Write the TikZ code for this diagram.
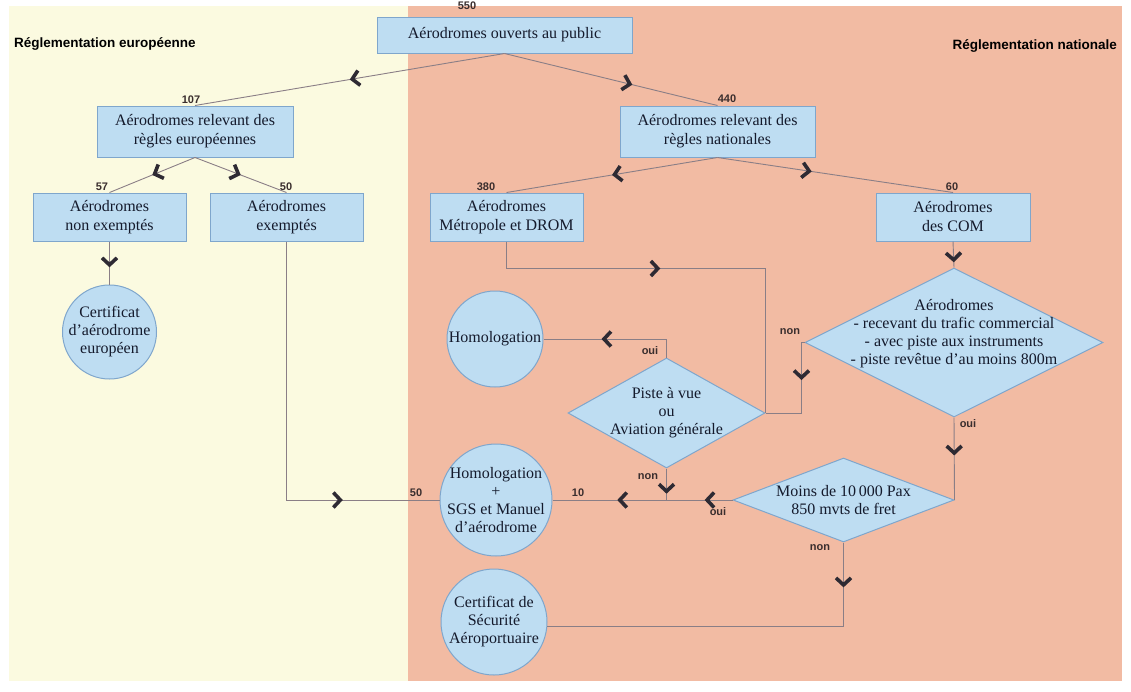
\documentclass[tikz,border=0pt]{standalone}
\usepackage{fontspec}
\setmainfont{Liberation Serif}
\newfontfamily\lblfont{Liberation Sans}
\usetikzlibrary{shapes.geometric,arrows.meta,decorations.markings}
\definecolor{bgL}{HTML}{FBFAE0}
\definecolor{bgR}{HTML}{F2BBA3}
\definecolor{boxfill}{HTML}{BEDDF2}
\definecolor{boxline}{HTML}{7FA6CC}
\definecolor{txt}{HTML}{141A2C}
\definecolor{linec}{HTML}{8A7E86}
\definecolor{arrc}{HTML}{2E2A33}
\definecolor{lblc}{HTML}{3A2E2E}
\tikzset{
 box/.style={draw=boxline,fill=boxfill,line width=1pt,align=center,text=txt,font=\fontsize{16}{19}\selectfont,inner sep=0pt},
 circ/.style={circle,draw=boxline,fill=boxfill,line width=1pt,inner sep=0pt},
 dia/.style={diamond,draw=boxline,fill=boxfill,line width=1pt,inner sep=0pt},
 ntext/.style={align=center,text=txt,font=\fontsize{16}{18}\selectfont,inner sep=0pt},
 lbl/.style={font=\lblfont\bfseries\fontsize{11}{12}\selectfont,text=lblc,inner sep=0pt},
 ttl/.style={font=\lblfont\bfseries\fontsize{13.5}{14}\selectfont,text=black,inner sep=0pt},
 conn/.style={draw=linec,line width=0.9pt},
 barb/.tip={Straight Barb[length=7pt,width=15pt,line width=3.6pt,color=arrc]},
 mid/.style={postaction={decorate,decoration={markings,mark=at position #1 with {\arrow{barb}}}}},
 midtwo/.style 2 args={postaction={decorate,decoration={markings,mark=at position #1 with {\arrow{barb}},mark=at position #2 with {\arrow{barb}}}}},
}
\begin{document}
\begin{tikzpicture}[x=1pt,y=-1pt]
\fill[white] (0,0) rectangle (1131,691);
\fill[bgL] (9,6) rectangle (408,681);
\fill[bgR] (408,6) rectangle (1122,681);
\useasboundingbox (0,0) rectangle (1131,691);

\node[ttl,anchor=west] (teu) at (14,44) {Réglementation européenne};
\node[ttl,anchor=east] (tnat) at (1117,46) {Réglementation nationale};

% boxes
\node[box,minimum width=255pt,minimum height=36pt] (top) at (504.5,35) {Aérodromes ouverts au public};
\node[box,minimum width=196pt,minimum height=51pt] (eu) at (195,131.5) {Aérodromes relevant des\\règles européennes};
\node[box,minimum width=195pt,minimum height=51pt] (nat) at (717.5,131.5) {Aérodromes relevant des\\règles nationales};
\node[box,minimum width=153pt,minimum height=48pt] (nonex) at (109.5,217) {Aérodromes\\non exemptés};
\node[box,minimum width=153pt,minimum height=48pt] (ex) at (286.5,217) {Aérodromes\\exemptés};
\node[box,minimum width=153pt,minimum height=48pt] (metro) at (506.5,217) {Aérodromes\\Métropole et DROM};
\node[box,minimum width=154pt,minimum height=48pt] (com) at (953,217) {Aérodromes\\des COM};

% circles
\node[circ,minimum size=94pt] (certeu) at (109.5,332) {};
\node[ntext] (certeut) at (certeu) {Certificat\\d'aérodrome\\européen};
\node[circ,minimum size=96pt] (homol) at (495,339) {};
\node[ntext] (homolt) at (homol) {Homologation};
\node[circ,minimum size=112pt] (sgs) at (496,500) {};
\node[ntext] (sgst) at (sgs) {Homologation\\+\\SGS et Manuel\\d'aérodrome};
\node[circ,minimum size=106pt] (cert) at (494,622) {};
\node[ntext] (certt) at (cert) {Certificat de\\Sécurité\\Aéroportuaire};

% diamonds
\node[dia,minimum width=197pt,minimum height=110pt] (piste) at (666.5,413) {};
\node[ntext] (pistet) at (piste) {Piste à vue\\ou\\Aviation générale};
\node[dia,minimum width=298pt,minimum height=149pt] (big) at (954,342.5) {};
\node[ntext] (bigt) at (954,334) {Aérodromes\\- recevant du trafic commercial\\- avec piste aux instruments\\- piste revêtue d'au moins 800m};
\node[dia,minimum width=221pt,minimum height=84pt] (moins) at (843.5,500) {};
\node[ntext] (moinst) at (moins) {Moins de 10\,000 Pax\\850 mvts de fret};

% connectors
\draw[conn,mid=0.5] (top.south) -- (eu.north);
\draw[conn,mid=0.6] (top.south) -- (nat.north);
\draw[conn,mid=0.5] (eu.south) -- (nonex.north);
\draw[conn,mid=0.5] (eu.south) -- (ex.north);
\draw[conn,mid=0.5] (nat.south) -- (metro.north);
\draw[conn,mid=0.4] (nat.south) -- (com.north);
\draw[conn,mid=0.6] (nonex.south) -- (certeu.north);
\draw[conn,mid=0.42] (metro.south) -- ++(0,27) -| (piste.east);
\draw[conn,mid=0.37] (big.west) -- ++(-3,0) |- (piste.east);
\draw[conn,mid=0.59] (piste.north) |- (homol.east);
\coordinate (j) at (piste.south |- moins.west);
\draw[conn,mid=0.8] (piste.south) -- (j);
\draw[conn,midtwo={0.155}{0.64}] (moins.west) -- (sgs.east);
\draw[conn,mid=0.8] (com.south) -- (big.north);
\draw[conn,mid=0.46] (big.south) -- (moins.east);
\draw[conn,mid=0.118] (moins.south) |- (cert.-5);
\draw[conn,mid=0.765] (ex.south) |- (sgs.west);

% labels
\node[lbl] (l550) at (467,6) {550};
\node[lbl] (l107) at (191,100) {107};
\node[lbl] (l440) at (727,99) {440};
\node[lbl] (l57) at (102,187) {57};
\node[lbl] (l50a) at (286,187) {50};
\node[lbl] (l380) at (486,187) {380};
\node[lbl] (l60) at (952,187) {60};
\node[lbl] (loui1) at (650,351) {oui};
\node[lbl] (lnon1) at (790,332) {non};
\node[lbl] (lnon2) at (648,477) {non};
\node[lbl] (loui2) at (718,512) {oui};
\node[lbl] (l10) at (578,493) {10};
\node[lbl] (l50b) at (416,493) {50};
\node[lbl] (loui3) at (968,424) {oui};
\node[lbl] (lnon3) at (820,548) {non};
\end{tikzpicture}
\end{document}
